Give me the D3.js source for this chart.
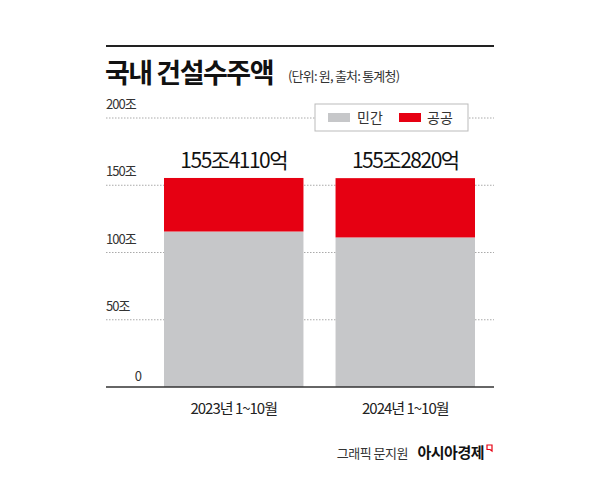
<!DOCTYPE html><html><head><meta charset="utf-8">
<script src="https://cdn.jsdelivr.net/npm/d3@7"></script>
<style>body{margin:0;background:#fff}text{font-family:"Noto Sans CJK KR",sans-serif}</style></head><body>
<svg id="c" width="600" height="480"></svg>
<script>
const categories=["2023년 1~10월","2024년 1~10월"];
const privateVals=[115.6,111.2];
const publicVals=[39.81,44.08];
const totalLabels=["155조4110억","155조2820억"];
const ticks=[0,50,100,150,200];
const tickLabels=["0","50조","100조","150조","200조"];
const svg=d3.select("#c");
const y=d3.scaleLinear().domain([0,200]).range([387,118]);
const x=d3.scaleBand().domain(categories).range([164,475]).paddingInner(0.187).paddingOuter(0);
svg.append("line").attr("x1",106).attr("x2",494).attr("y1",46).attr("y2",46).attr("stroke","#222").attr("stroke-width",2);
svg.append("text").attr("x",105).attr("y",83).attr("font-size",27).attr("font-weight",700).attr("fill","#111").attr("letter-spacing",-1.5).text("국내 건설수주액");
svg.append("text").attr("x",288).attr("y",81).attr("font-size",13).attr("fill","#333").attr("letter-spacing",-0.8).text("(단위: 원, 출처: 통계청)");
ticks.forEach((t,i)=>{
 if(t>0)svg.append("line").attr("x1",106).attr("x2",494).attr("y1",y(t)).attr("y2",y(t)).attr("stroke","#aaa").attr("stroke-dasharray","1.5,1.5");
 svg.append("text").attr("x",t==0?141:106).attr("y",y(t)-(t==0?6:9)).attr("text-anchor",t==0?"end":"start").attr("font-size",13).attr("fill","#333").attr("letter-spacing",-1).text(tickLabels[i]);
});
categories.forEach((c,i)=>{
 svg.append("rect").attr("x",x(c)).attr("width",x.bandwidth()).attr("y",y(privateVals[i])).attr("height",y(0)-y(privateVals[i])).attr("fill","#c6c7c9");
 svg.append("rect").attr("x",x(c)).attr("width",x.bandwidth()).attr("y",y(privateVals[i]+publicVals[i])).attr("height",y(privateVals[i])-y(privateVals[i]+publicVals[i])).attr("fill","#e60012");
 svg.append("text").attr("x",x(c)+x.bandwidth()/2).attr("y",y(privateVals[i]+publicVals[i])-10).attr("text-anchor","middle").attr("font-size",21).attr("fill","#111").attr("letter-spacing",-1.5).text(totalLabels[i]);
 svg.append("text").attr("x",x(c)+x.bandwidth()/2).attr("y",414).attr("text-anchor","middle").attr("font-size",15).attr("fill","#222").attr("letter-spacing",-1).text(c);
});
svg.append("line").attr("x1",106).attr("x2",494).attr("y1",387).attr("y2",387).attr("stroke","#333").attr("stroke-width",1.5);
const lg=svg.append("g");
lg.append("rect").attr("x",315).attr("y",104).attr("width",153).attr("height",27).attr("fill","#fff").attr("stroke","#bbb");
lg.append("rect").attr("x",328).attr("y",113).attr("width",22).attr("height",9).attr("fill","#c6c7c9");
lg.append("text").attr("x",357).attr("y",123).attr("font-size",14).attr("fill","#333").text("민간");
lg.append("rect").attr("x",399).attr("y",113).attr("width",22).attr("height",9).attr("fill","#e60012");
lg.append("text").attr("x",427).attr("y",123).attr("font-size",14).attr("fill","#333").text("공공");
svg.append("text").attr("x",408).attr("y",458).attr("text-anchor","end").attr("font-size",13).attr("fill","#333").attr("letter-spacing",-0.5).text("그래픽 문지원");
svg.append("text").attr("x",484).attr("y",458).attr("text-anchor","end").attr("font-size",15).attr("font-weight",700).attr("fill","#111").attr("letter-spacing",-0.5).text("아시아경제");
svg.append("path").attr("d","M487,445 h5 v6 l-2,-1.5 h-3 z").attr("fill","none").attr("stroke","#e60012").attr("stroke-width",1.2);
</script></body></html>
